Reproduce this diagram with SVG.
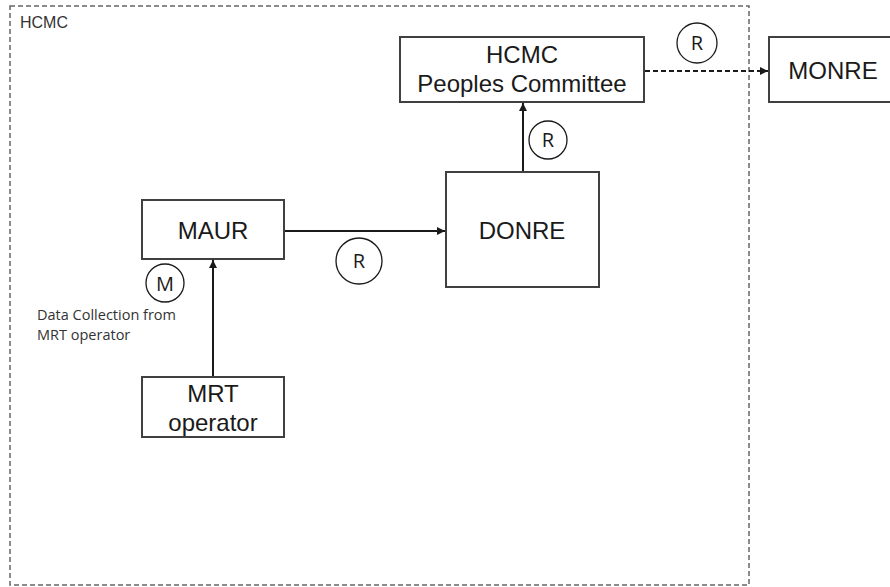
<svg xmlns="http://www.w3.org/2000/svg" width="890" height="587" viewBox="0 0 890 587">
<style>
.box{fill:#fff;stroke:#404040;stroke-width:2}
.lbl{font-family:"Liberation Sans",Arial,sans-serif;fill:#1a1a1a;text-anchor:middle}
.big{font-size:24px}
.circ{fill:#fff;stroke:#1a1a1a;stroke-width:1.3}
.ctext{font-family:"Open Sans","Liberation Sans",sans-serif;font-size:20px;fill:#1a1a1a;text-anchor:middle}
.edge{stroke:#1a1a1a;stroke-width:2;fill:none}
.note{font-family:"Open Sans","Liberation Sans",sans-serif;font-size:14.5px;fill:#333}
</style>
<defs>
<marker id="ah2" viewBox="0 0 10 10" refX="10" refY="5" markerWidth="10" markerHeight="8" orient="auto" markerUnits="userSpaceOnUse">
<path d="M0,0 L10,5 L0,10 z" fill="#1a1a1a"/>
</marker>
</defs>
<rect width="890" height="587" fill="#fff"/>
<g id="hcmc-region">
<rect x="10" y="6" width="739" height="579" fill="none" stroke="#666" stroke-width="1.5" stroke-dasharray="5,3"/>
<text x="20" y="28" font-family="Liberation Sans,Arial,sans-serif" font-size="16" fill="#333">HCMC</text>
</g>
<g id="connectors">
<line class="edge" x1="523" y1="172" x2="523" y2="103" marker-end="url(#ah2)"/>
<line class="edge" x1="284" y1="231" x2="445" y2="231" marker-end="url(#ah2)"/>
<line class="edge" x1="213" y1="377" x2="213" y2="260" marker-end="url(#ah2)"/>
<line class="edge" x1="645" y1="71" x2="768" y2="71" stroke-dasharray="5,3" marker-end="url(#ah2)"/>
</g>
<g id="committee">
<rect class="box" x="400" y="37" width="244" height="65"/>
<text class="lbl big" x="522" y="63">HCMC</text>
<text class="lbl big" x="522" y="92">Peoples Committee</text>
</g>
<g id="monre">
<rect class="box" x="769" y="37" width="130" height="65"/>
<text class="lbl big" x="833" y="79">MONRE</text>
</g>
<g id="donre">
<rect class="box" x="446" y="172" width="153" height="115"/>
<text class="lbl big" x="522" y="239">DONRE</text>
</g>
<g id="maur">
<rect class="box" x="142" y="200" width="142" height="59"/>
<text class="lbl big" x="213" y="239">MAUR</text>
</g>
<g id="mrt">
<rect class="box" x="142" y="377" width="142" height="60"/>
<text class="lbl big" x="213" y="402">MRT</text>
<text class="lbl big" x="213" y="431">operator</text>
</g>
<g id="badge-r1">
<circle class="circ" cx="697" cy="43" r="20"/>
<text class="ctext" x="697" y="50">R</text>
</g>
<g id="badge-r2">
<circle class="circ" cx="548" cy="140" r="19"/>
<text class="ctext" x="548" y="147">R</text>
</g>
<g id="badge-r3">
<circle class="circ" cx="359" cy="261" r="23"/>
<text class="ctext" x="359" y="268">R</text>
</g>
<g id="badge-m">
<circle class="circ" cx="165" cy="283" r="19"/>
<text class="ctext" x="165" y="291" font-size="22">M</text>
</g>
<g id="note">
<text class="note" x="37" y="320">Data Collection from</text>
<text class="note" x="37" y="340">MRT operator</text>
</g>
</svg>
